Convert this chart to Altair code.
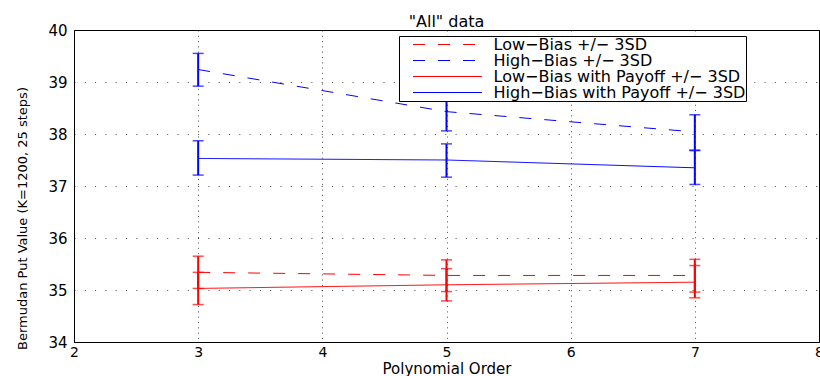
import altair as alt
import pandas as pd

# ---- data ----
orders = [3, 5, 7]
series_names = [
    "Low\u2212Bias +/\u2212 3SD",
    "High\u2212Bias +/\u2212 3SD",
    "Low\u2212Bias with Payoff +/\u2212 3SD",
    "High\u2212Bias with Payoff +/\u2212 3SD",
]
low_mean = [35.34, 35.28, 35.28]
low_lo = [35.03, 34.97, 34.96]
low_hi = [35.65, 35.58, 35.59]

high_mean = [39.24, 38.43, 38.04]
high_lo = [38.92, 38.06, 37.69]
high_hi = [39.55, 38.80, 38.37]

lowpay_mean = [35.03, 35.10, 35.15]
lowpay_lo = [34.72, 34.79, 34.85]
lowpay_hi = [35.34, 35.41, 35.47]

highpay_mean = [37.53, 37.50, 37.35]
highpay_lo = [37.21, 37.17, 37.03]
highpay_hi = [37.87, 37.81, 37.68]

x_ticks = [2, 3, 4, 5, 6, 7, 8]
y_ticks = [34, 35, 36, 37, 38, 39, 40]

series_colors = ["#ff0000", "#0000ff", "#ff0000", "#0000ff"]
series_dashes = [[12, 13], [12, 13], [1, 0], [1, 0]]

means = [low_mean, high_mean, lowpay_mean, highpay_mean]
los = [low_lo, high_lo, lowpay_lo, highpay_lo]
his = [low_hi, high_hi, lowpay_hi, highpay_hi]

rows = []
for name, m, lo, hi in zip(series_names, means, los, his):
    for o, mv, lv, hv in zip(orders, m, lo, hi):
        rows.append({"order": o, "value": mv, "lo": lv, "hi": hv, "series": name})
df = pd.DataFrame(rows)

FONT = "DejaVu Sans"

xenc = alt.X(
    "order:Q",
    scale=alt.Scale(domain=[2, 8], nice=False, zero=False),
    axis=alt.Axis(
        values=x_ticks, format="d", title="Polynomial Order",
        grid=True, gridDash=[1, 4.3], gridColor="#000000", gridOpacity=0.7,
        ticks=False, labelFlush=False, labelOverlap=False,
        labelFont=FONT, labelFontSize=14, labelColor="#000000", labelPadding=3,
        titleFont=FONT, titleFontSize=15, titleFontWeight="normal", titleColor="#000000",
        titleY=31, titleBaseline="alphabetic",
        domainColor="#000000",
    ),
)
yscale = alt.Scale(domain=[34, 40], nice=False, zero=False)
yaxis = alt.Axis(
    values=y_ticks, format="d", title="Bermudan Put Value (K=1200, 25 steps)",
    grid=True, gridDash=[1, 9.3], gridColor="#000000", gridOpacity=0.7,
    ticks=False, labelFlush=False, labelOverlap=False,
    labelFont=FONT, labelFontSize=15, labelColor="#000000", labelPadding=7,
    titleFont=FONT, titleFontSize=13, titleFontWeight="normal", titleColor="#000000",
    titleAngle=270, titleAlign="center", titleBaseline="middle",
    titleX=-52, titleY=188,
    domainColor="#000000",
)

color_scale = alt.Scale(domain=series_names, range=series_colors)
dash_scale = alt.Scale(domain=series_names, range=series_dashes)

legend_props = dict(
    title=None,
    orient="none", legendX=325, legendY=6,
    symbolType="M0,0H10", symbolSize=190, symbolStrokeWidth=1,
    symbolOffset=5.5, labelOffset=72.5,
    labelFont=FONT, labelFontSize=16, labelColor="#000000", labelLimit=600,
    strokeColor="#000000", fillColor="white", padding=0.5, rowPadding=-0.7,
    cornerRadius=0,
)

base = alt.Chart(df)

lines = base.mark_line(strokeWidth=1).encode(
    x=xenc,
    y=alt.Y("value:Q", scale=yscale, axis=yaxis),
    color=alt.Color("series:N", scale=color_scale, sort=series_names,
                    legend=alt.Legend(**legend_props)),
    strokeDash=alt.StrokeDash("series:N", scale=dash_scale, sort=series_names,
                              legend=alt.Legend(**legend_props)),
    detail="series:N",
)

# error-bar colours: same mapping, listed in reverse order so these
# (hidden) scales never merge with the visible legend
err_scale = alt.Scale(domain=series_names[::-1], range=series_colors[::-1])

bars = base.mark_rule(strokeWidth=2).encode(
    x="order:Q", y="lo:Q", y2="hi:Q",
    stroke=alt.Stroke("series:N", scale=err_scale, legend=None),
)
caps_lo = base.mark_tick(orient="horizontal", size=11, thickness=1.5).encode(
    x="order:Q", y="lo:Q",
    fill=alt.Fill("series:N", scale=err_scale, legend=None),
)
caps_hi = base.mark_tick(orient="horizontal", size=11, thickness=1.5).encode(
    x="order:Q", y="hi:Q",
    fill=alt.Fill("series:N", scale=err_scale, legend=None),
)

chart = (
    alt.layer(lines, bars, caps_lo, caps_hi)
    .properties(
        width=745,
        height=312,
        autosize=alt.AutoSizeParams(type="none"),
        padding={"left": 74, "top": 30, "right": 1, "bottom": 34},
        title=alt.TitleParams(
            '"All" data', font=FONT, fontSize=16, fontWeight="normal",
            color="#000000", anchor="middle", offset=0, baseline="alphabetic", dy=20,
        ),
        background="white",
    )
    .configure_view(stroke="#000000", strokeWidth=1)
)

chart.save("out.html", embed_options={"renderer": "svg", "actions": False})
